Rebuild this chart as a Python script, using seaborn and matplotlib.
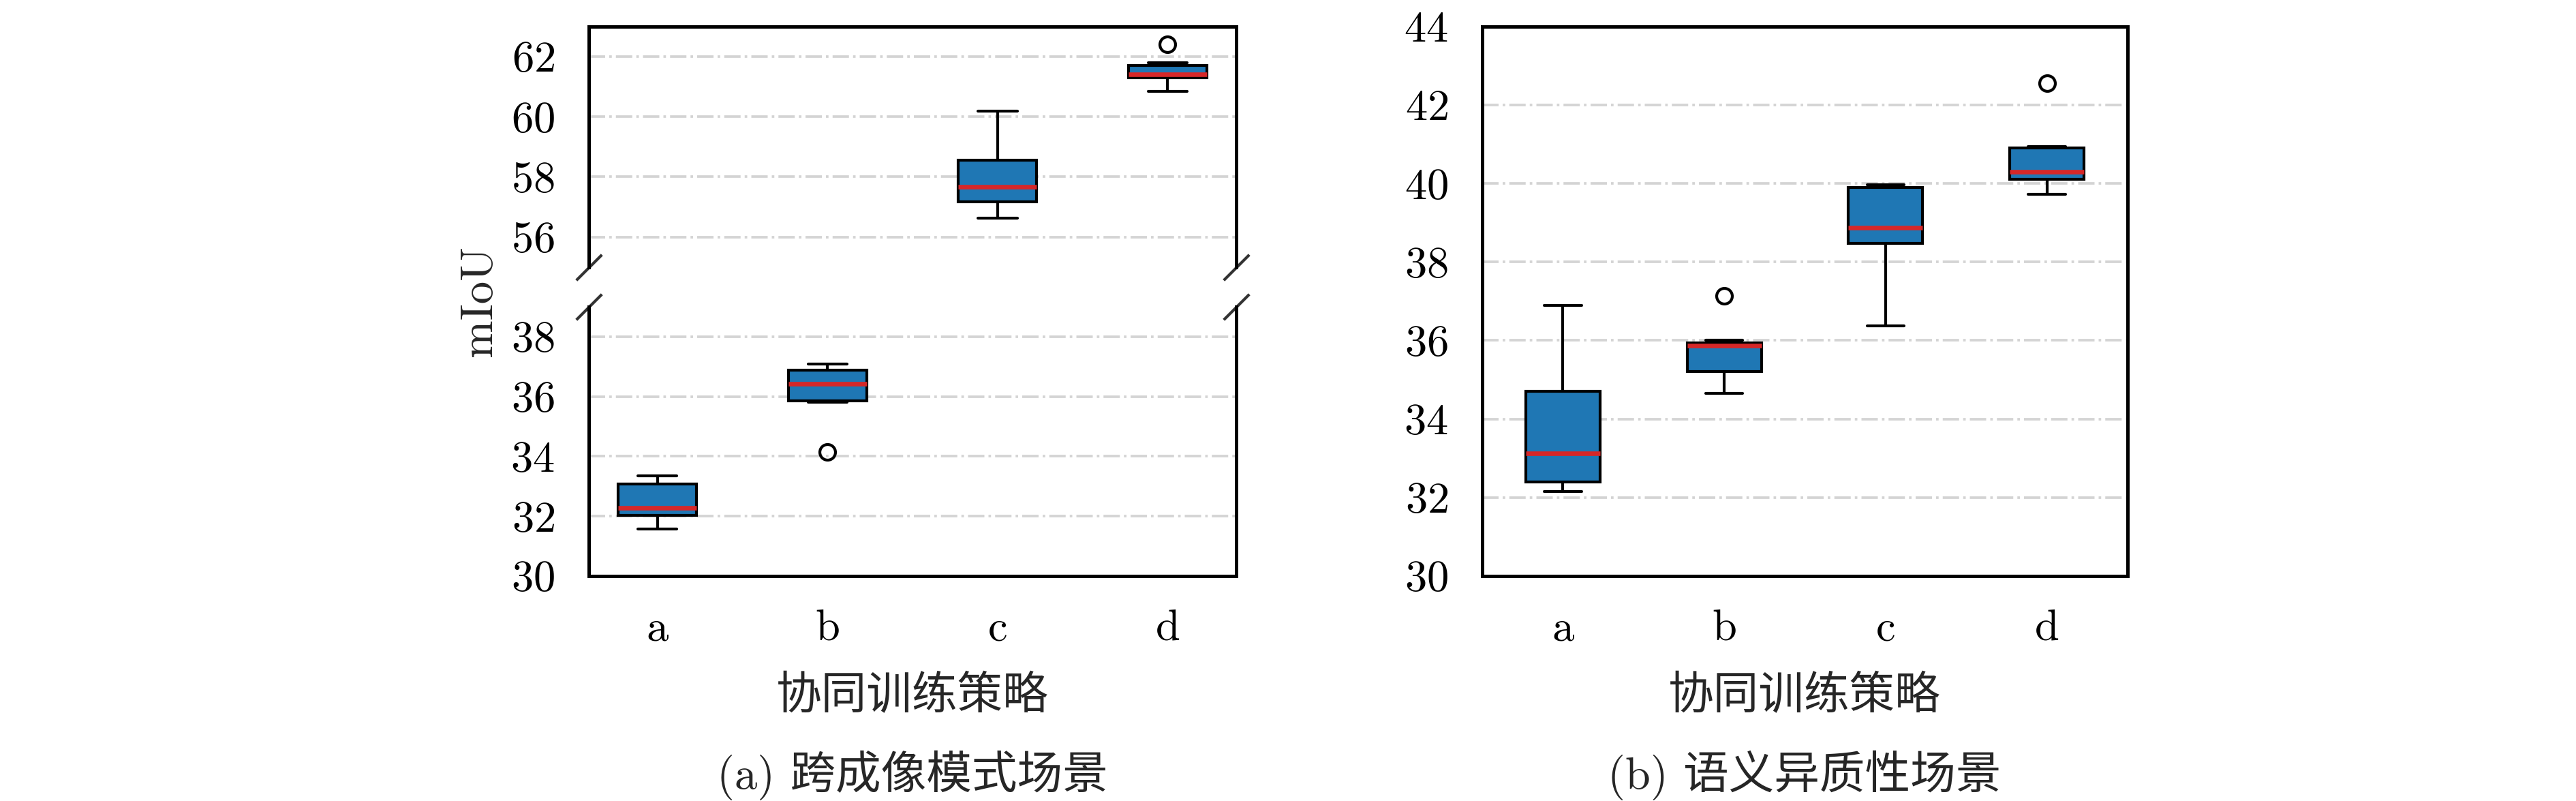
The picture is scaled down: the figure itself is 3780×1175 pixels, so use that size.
import matplotlib
matplotlib.use("Agg")
import matplotlib.pyplot as plt
import pandas as pd
import seaborn as sns

# ---- data (mIoU of 7 runs per strategy) ----
strategies = ["a", "b", "c", "d"]

# (a) 跨成像模式场景
cross_a = [31.56, 31.95, 32.09, 32.27, 33.00, 33.16, 33.35]
cross_b = [34.14, 35.82, 35.88, 36.42, 36.80, 36.94, 37.08]
cross_c = [56.63, 57.10, 57.26, 57.66, 58.40, 58.72, 60.19]
cross_d = [60.85, 61.26, 61.32, 61.40, 61.61, 61.79, 62.40]

# (b) 语义异质性场景
sem_a = [32.16, 32.30, 32.50, 33.13, 34.60, 34.82, 36.90]
sem_b = [34.66, 35.10, 35.32, 35.86, 35.87, 36.01, 37.14]
sem_c = [36.38, 38.40, 38.56, 38.88, 39.84, 39.96, 39.97]
sem_d = [39.73, 40.05, 40.15, 40.30, 40.89, 40.93, 42.55]

top_ticks = [56, 58, 60, 62]
bottom_ticks = [30, 32, 34, 36, 38]
right_ticks = [30, 32, 34, 36, 38, 40, 42, 44]

xlabel = "协同训练策略"
caption_a = "(a) 跨成像模式场景"
caption_b = "(b) 语义异质性场景"


def to_frame(groups):
    rows = []
    for s, vals in zip(strategies, groups):
        for v in vals:
            rows.append({"策略": s, "mIoU": v})
    return pd.DataFrame(rows)


df_cross = to_frame([cross_a, cross_b, cross_c, cross_d])
df_sem = to_frame([sem_a, sem_b, sem_c, sem_d])

sns.set_style("white")
plt.rcParams["font.family"] = ["cmr10", "Noto Sans CJK SC"]
plt.rcParams["mathtext.fontset"] = "cm"
plt.rcParams["axes.formatter.use_mathtext"] = True
plt.rcParams["axes.unicode_minus"] = False

BLUE = "#1f77b4"
RED = "#d62728"
GRID = "#d4d4d4"
FS_TICK = 15.5
FS_LABEL = 16


def draw_box(ax, df):
    sns.boxplot(
        data=df, x="策略", y="mIoU", order=strategies, ax=ax,
        width=0.46, color=BLUE, saturation=1, linecolor="black", linewidth=1.0,
        medianprops=dict(color=RED, linewidth=1.6),
        flierprops=dict(marker="o", markerfacecolor="none", markeredgecolor="black",
                        markersize=5.5, markeredgewidth=1.0),
    )
    ax.set_xlabel("")
    ax.set_ylabel("")
    ax.set_axisbelow(True)
    ax.yaxis.grid(True, linestyle="-.", color=GRID, linewidth=0.9)
    ax.xaxis.grid(False)
    for sp in ax.spines.values():
        sp.set_color("black")
        sp.set_linewidth(1.2)
    ax.tick_params(direction="in", length=3.3, width=1.0, pad=12,
                   labelsize=FS_TICK, colors="black")


fig = plt.figure(figsize=(12.6, 3.9167), dpi=300)

# left panel: broken y axis
ax_top = fig.add_axes([0.2286, 0.6664, 0.2513, 0.3007])
ax_bot = fig.add_axes([0.2286, 0.2809, 0.2513, 0.3361])
draw_box(ax_top, df_cross)
draw_box(ax_bot, df_cross)

ax_top.set_ylim(55, 63)
ax_top.set_yticks(top_ticks)
ax_bot.set_ylim(30, 39)
ax_bot.set_yticks(bottom_ticks)

ax_top.spines["bottom"].set_visible(False)
ax_bot.spines["top"].set_visible(False)
ax_top.tick_params(axis="x", bottom=False, labelbottom=False)

d = 1
kw = dict(marker=[(-1, -d), (1, d)], markersize=9, linestyle="none",
          color="#333333", mec="#333333", mew=1.0, clip_on=False)
ax_top.plot([0, 1], [0, 0], transform=ax_top.transAxes, **kw)
ax_bot.plot([0, 1], [1, 1], transform=ax_bot.transAxes, **kw)

# right panel
ax_r = fig.add_axes([0.5754, 0.2809, 0.2505, 0.6862])
draw_box(ax_r, df_sem)
ax_r.set_ylim(30, 44)
ax_r.set_yticks(right_ticks)

# labels
fig.text(0.1862, 0.624, "mIoU", rotation=90, ha="center", va="center", fontsize=FS_LABEL)
fig.text(0.3542, 0.130, xlabel, ha="center", va="center", fontsize=FS_LABEL)
fig.text(0.7005, 0.130, xlabel, ha="center", va="center", fontsize=FS_LABEL)
fig.text(0.3542, 0.032, caption_a, ha="center", va="center", fontsize=FS_LABEL)
fig.text(0.7005, 0.032, caption_b, ha="center", va="center", fontsize=FS_LABEL)

fig.savefig("out.png", dpi=300)
